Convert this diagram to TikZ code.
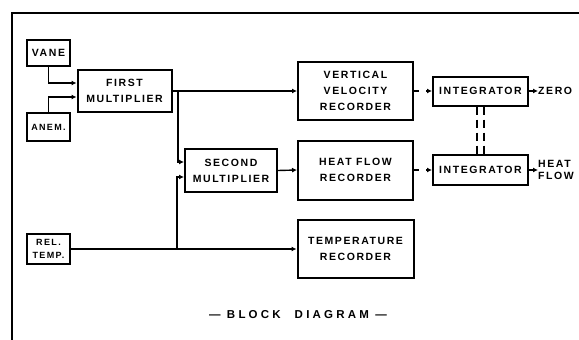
\documentclass[tikz,border=0pt]{standalone}
\usepackage{fontspec}
\usetikzlibrary{arrows.meta,calc}
\newfontfamily\bxfont{Liberation Sans}[LetterSpace=15]
\newfontfamily\ttlfont{Liberation Sans}[LetterSpace=28]
\begin{document}
\begin{tikzpicture}[x=1pt,y=-1pt,
  blk/.style={draw,line width=2pt,rectangle,inner sep=1pt,align=center,
    font={\bxfont\bfseries\fontsize{10.5}{16}\selectfont}},
  smallblk/.style={blk,font={\bxfont\bfseries\fontsize{9}{13}\selectfont}},
  arr/.style={line width=1.4pt,-{Latex[length=5pt,width=5pt]}},
  conn/.style={line width=1.4pt},
  dasharr/.style={arr,dash pattern=on 5pt off 7pt},
  lbl/.style={font={\bxfont\bfseries\fontsize{10.5}{12}\selectfont},align=left,anchor=west,inner sep=0pt}]
\useasboundingbox (0,0) rectangle (579,340);
\fill[white] (0,0) rectangle (579,340);
% frame
\draw[line width=1.5pt] (579,13) -- (12,13) -- (12,340);
% blocks
\node[blk,minimum width=43pt,minimum height=26pt] (vane) at (48.5,53) {VANE};
\node[smallblk,minimum width=43pt,minimum height=28pt] (anem) at (48.5,127) {ANEM.};
\node[blk,minimum width=94pt,minimum height=42pt] (first) at (124.5,91) {FIRST\\MULTIPLIER};
\node[blk,minimum width=92pt,minimum height=43pt] (second) at (231,170.5) {SECOND\\MULTIPLIER};
\node[smallblk,minimum width=43pt,minimum height=30pt] (rel) at (48.5,249) {REL.\\TEMP.};
\node[blk,minimum width=115pt,minimum height=58pt] (vv) at (355.5,91) {VERTICAL\\VELOCITY\\RECORDER};
\node[blk,minimum width=115pt,minimum height=59pt] (hf) at (355.5,170) {HEAT FLOW\\RECORDER};
\node[blk,minimum width=116pt,minimum height=58pt] (temp) at (355.5,249) {TEMPERATURE\\RECORDER};
\node[blk,minimum width=95pt,minimum height=29pt] (int1) at (480.5,91) {INTEGRATOR};
\node[blk,minimum width=95pt,minimum height=30pt] (int2) at (480.5,170) {INTEGRATOR};
\node[lbl] (zero) at (538,91) {ZERO};
\node[lbl] (heat) at (538,170) {HEAT\\FLOW};
\node[font={\ttlfont\bfseries\fontsize{11.5}{13}\selectfont}] (title) at (298,315) {— BLOCK\hspace{14pt}DIAGRAM —};
% branch points
\coordinate (b1) at (178,91);
\coordinate (b2) at (177,249);
% connectors
\draw[arr] (vane.south) |- ($(first.west)+(0,-8)$);
\draw[arr] (anem.north) |- ($(first.west)+(0,6)$);
\draw[arr] (first.east) -- (vv.west);
\draw[arr] (b1) |- ($(second.west)+(0,-8.5)$);
\draw[arr] (rel.east) -- (temp.west);
\draw[arr] (b2) |- ($(second.west)+(0,6.5)$);
\draw[arr] (second.east) -- (hf.west);
\draw[dasharr] (vv.east) -- (int1.west);
\draw[dasharr] (hf.east) -- (int2.west);
\draw[arr] (int1.east) -- (zero.west);
\draw[arr] (int2.east) -- (heat.west);
\draw[conn,dash pattern=on 8pt off 5pt] ($(int1.south)+(-3.5,0)$) -- ($(int2.north)+(-3.5,0)$);
\draw[conn,dash pattern=on 8pt off 5pt] ($(int1.south)+(3.5,0)$) -- ($(int2.north)+(3.5,0)$);
\end{tikzpicture}
\end{document}
